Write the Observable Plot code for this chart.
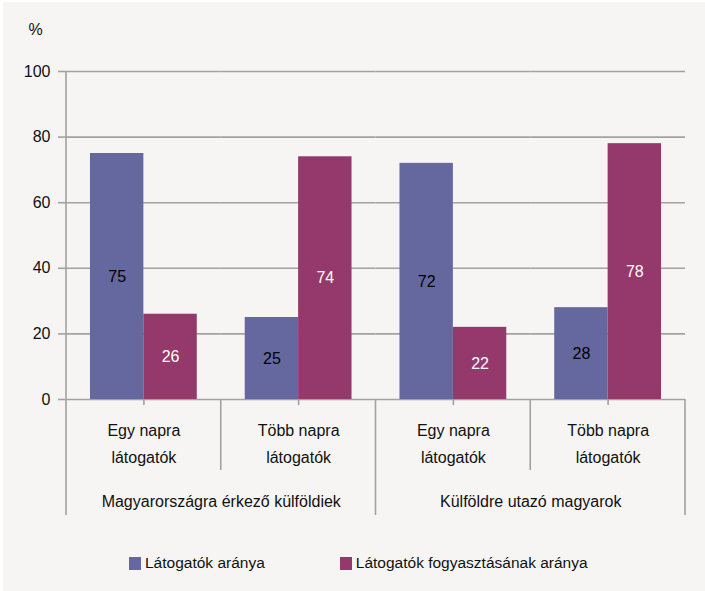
<!DOCTYPE html>
<html><head><meta charset="utf-8">
<script src="https://cdn.jsdelivr.net/npm/d3@7"></script>
<script src="https://cdn.jsdelivr.net/npm/@observablehq/plot@0.6"></script>
<style>
html,body{margin:0;padding:0;background:#fff;}
#wrap{position:relative;width:705px;height:591px;overflow:hidden;}
#bg{position:absolute;left:3px;top:2px;right:0;bottom:0;background:#f6f5f3;}
#chart{position:absolute;left:0;top:0;}
#legend{position:absolute;left:129px;top:553px;display:flex;gap:75px;font-family:"Liberation Sans",Arial,sans-serif;font-size:15.5px;color:#111;line-height:20px;}
.item{display:flex;align-items:center;}
.sw{width:12px;height:13px;margin-right:4px;}
</style></head>
<body><div id="wrap"><div id="bg"></div><div id="chart"></div><div id="legend"></div></div>
<script>
const series = ["Látogatók aránya", "Látogatók fogyasztásának aránya"];
const seriesColors = ["#65689f", "#95386c"];
const valueLabelColors = ["#000000", "#ffffff"];
const groups = ["Magyarországra érkező külföldiek", "Külföldre utazó magyarok"];
const categoryLines = [["Egy napra", "látogatók"], ["Több napra", "látogatók"]];
const visitors = [75, 25, 72, 28];
const consumption = [26, 74, 22, 78];
const yTicks = [0, 20, 40, 60, 80, 100];
const yUnit = "%";

const font = '"Liberation Sans", Arial, sans-serif';
const gray = "#a2a2a2";
const lw = 1.6;
const fs = 16;

const cells = [];
groups.forEach((g, gi) => categoryLines.forEach((lines, ci) =>
  cells.push({id: gi + "-" + ci, group: g, gi, ci, line1: lines[0], line2: lines[1]})));
const rows = [];
cells.forEach((c, k) => {
  rows.push({id: c.id, series: series[0], value: visitors[k]});
  rows.push({id: c.id, series: series[1], value: consumption[k]});
});

const plot = Plot.plot({
  width: 705, height: 540,
  marginLeft: 66, marginRight: 20, marginTop: 71, marginBottom: 141,
  style: {background: "transparent", fontFamily: font, fontSize: fs + "px", color: "#111", overflow: "visible"},
  fx: {domain: cells.map(c => c.id), padding: 0, round: false, label: null},
  x: {domain: series, paddingInner: 0, paddingOuter: 0.449, round: false, axis: null},
  y: {domain: [0, 100], label: null},
  color: {domain: series, range: seriesColors},
  marks: [
    Plot.ruleY(yTicks, {stroke: gray, strokeWidth: lw}),
    Plot.barY(rows, {fx: "id", x: "series", y: "value", fill: "series"}),
    ...series.map((s, i) => Plot.text(rows.filter(r => r.series === s), {
      fx: "id", x: "series", y: d => d.value / 2, text: d => String(d.value),
      fill: valueLabelColors[i], fontSize: fs
    })),
    Plot.axisY({ticks: yTicks, tickSize: 8, tickPadding: 8, stroke: gray, strokeWidth: lw, fill: "#111", label: null, fontSize: fs}),
    Plot.axisFx({anchor: "bottom", tickSize: 6, tickFormat: () => "", stroke: gray, strokeWidth: lw, label: null}),
    Plot.text(cells, {fx: "id", frameAnchor: "bottom", lineAnchor: "middle", dy: 31, text: "line1", fill: "#111", fontSize: fs}),
    Plot.text(cells, {fx: "id", frameAnchor: "bottom", lineAnchor: "middle", dy: 58.5, text: "line2", fill: "#111", fontSize: fs}),
    Plot.text(cells.filter(c => c.ci === 0), {fx: "id", frameAnchor: "bottom-right", textAnchor: "middle", lineAnchor: "middle", dy: 102, text: "group", fill: "#111", fontSize: fs}),
    Plot.text([cells[0]], {fx: "id", frameAnchor: "top-left", textAnchor: "middle", lineAnchor: "middle", dx: -31, dy: -42, text: () => yUnit, fill: "#111", fontSize: fs})
  ]
});
document.getElementById("chart").appendChild(plot);

// separator lines below the category axis, placed with the plot's own scales
const fx = plot.scale("fx");
const y = plot.scale("y");
const y0 = y.apply(0), yTop = y.apply(100);
const svg = d3.select(plot);
const seps = [];
cells.forEach((c, k) => {
  const x = fx.apply(c.id);
  if (k === 0) seps.push({x, y1: yTop, y2: y0 + 116});
  else if (c.ci === 0) seps.push({x, y1: y0, y2: y0 + 116});
  else seps.push({x, y1: y0, y2: y0 + 71});
});
seps.push({x: fx.apply(cells[cells.length - 1].id) + fx.step, y1: y0, y2: y0 + 116});
svg.append("g").attr("stroke", gray).attr("stroke-width", lw)
  .selectAll("line").data(seps).join("line")
  .attr("x1", d => d.x).attr("x2", d => d.x).attr("y1", d => d.y1).attr("y2", d => d.y2);

// legend
const legend = d3.select("#legend");
series.forEach((s, i) => {
  const it = legend.append("div").attr("class", "item");
  it.append("div").attr("class", "sw").style("background", seriesColors[i]);
  it.append("span").text(s);
});
</script>
</body></html>
